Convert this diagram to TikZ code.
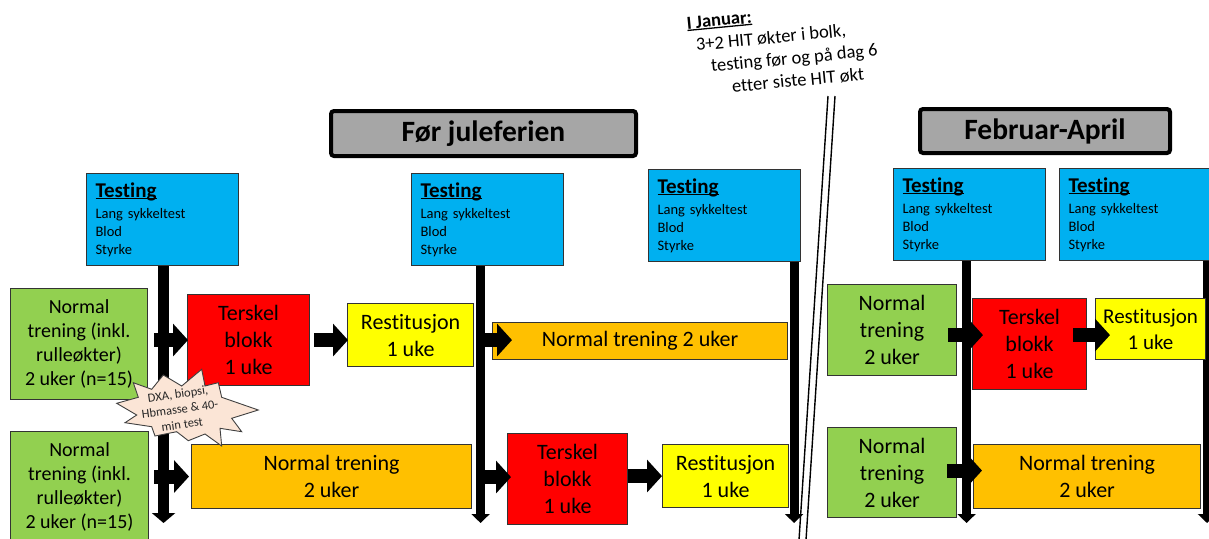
\documentclass[tikz,border=0pt]{standalone}
\usepackage{fontspec}
\setmainfont{Carlito}[Ligatures=NoCommon]
\usetikzlibrary{arrows.meta,calc}
\definecolor{tblue}{HTML}{00B0F0}
\definecolor{tgreen}{HTML}{92D050}
\definecolor{tred}{HTML}{FF0000}
\definecolor{tyellow}{HTML}{FFFF00}
\definecolor{torange}{HTML}{FFC000}
\definecolor{tgray}{HTML}{A6A6A6}
\definecolor{tpeach}{HTML}{FBE5D6}
\newcommand\myul[1]{\leavevmode\setbox0\hbox{#1}\rlap{\rule[-2pt]{\wd0}{1.3pt}}\box0}
\begin{document}
\begin{tikzpicture}[x=1pt,y=-1pt,
  box/.style={draw=black!80, line width=1.1pt, inner sep=0pt, align=center, anchor=north west},
  big/.style={font=\fontsize{22}{27}\selectfont},
  mid/.style={font=\fontsize{20}{24}\selectfont},
  testbox/.style={box, fill=tblue, align=left, inner xsep=9pt, text width=134pt, minimum height=92pt,
    font=\fontsize{14.5}{18}\selectfont},
  greenbox/.style={box, fill=tgreen},
  redbox/.style={box, fill=tred, big},
  yellowbox/.style={box, fill=tyellow, big},
  orangebox/.style={box, fill=torange, big},
  titlebox/.style={draw=black, line width=4pt, fill=tgray, rounded corners=3pt, inner sep=0pt,
    font=\fontsize{29.5}{32}\selectfont\bfseries},
  varrow/.style={line width=9pt, -{Triangle[length=9pt,width=18pt]}},
  harrow/.style={line width=14pt, -{Triangle[length=15pt,width=32pt]}}
]
\useasboundingbox (0,0) rectangle (1209,538);
\fill[white] (0,0) rectangle (1209,538);

% titles
\node[titlebox, minimum width=305pt, minimum height=45pt] (t1) at (483.5,133.5) {Før juleferien};
\node[titlebox, minimum width=250pt, minimum height=44pt] (t2) at (1045,131) {Februar-April};

% testing boxes
\newcommand\testtxt{{\fontsize{21}{24}\selectfont\bfseries\myul{Testing}}\\[3pt]Lang sykkeltest\\Blod\\Styrke}
\node[testbox] (T1) at (86,173) {\testtxt};
\node[testbox] (T2) at (411,173) {\testtxt};
\node[testbox] (T3) at (648,169) {\testtxt};
\node[testbox] (T4) at (893,168) {\testtxt};
\node[testbox, text width=142pt] (T5) at (1059,168) {\testtxt};

% vertical arrows
\coordinate (bot) at (0,523);
\coordinate (v1) at ($(T1.south)+(1,0)$);
\coordinate (v2) at ($(T2.south)+(-7,0)$);
\coordinate (v3) at ($(T3.south east)+(-7,0)$);
\coordinate (v4) at ($(T4.south)+(-3,0)$);
\coordinate (v5) at ($(T5.south west)+(148,0)$);
\draw[varrow, line width=11pt, -{Triangle[length=10pt,width=23pt]}] (v1) -- (v1 |- bot);
\draw[varrow] (v2) -- (v2 |- bot);
\draw[varrow] (v3) -- (v3 |- bot);
\draw[varrow] (v4) -- (v4 |- bot);
\draw[varrow] (v5) -- (v5 |- bot);

% left part, row 1
\node[greenbox, mid, minimum width=137pt, minimum height=111pt] (G1) at (10,288)
  {Normal\\trening (inkl.\\rulleøkter)\\2 uker (n=15)};
\node[redbox, minimum width=122pt, minimum height=91pt] (R1) at (187,294) {Terskel\\blokk\\1 uke};
\node[yellowbox, minimum width=126pt, minimum height=63pt] (Y1) at (347,303) {Restitusjon\\1 uke};
\node[orangebox, minimum width=295pt, minimum height=37pt] (O1) at (492,322) {Normal trening 2 uker};

% left part, row 2
\node[greenbox, mid, minimum width=138pt, minimum height=110pt] (G2) at (10,431)
  {Normal\\trening (inkl.\\rulleøkter)\\2 uker (n=15)};
\node[orangebox, minimum width=280pt, minimum height=64pt] (O2) at (191,444) {Normal trening\\2 uker};
\node[redbox, minimum width=120pt, minimum height=91pt] (R2) at (507,433) {Terskel\\blokk\\1 uke};
\node[yellowbox, minimum width=126pt, minimum height=63pt] (Y2) at (662,444) {Restitusjon\\1 uke};

% right part
\node[greenbox, big, minimum width=129pt, minimum height=91pt] (GR1) at (827,284) {Normal\\trening\\2 uker};
\node[redbox, minimum width=114pt, minimum height=91pt] (R3) at (972,298) {Terskel\\blokk\\1 uke};
\node[yellowbox, font=\fontsize{21}{26}\selectfont, minimum width=110pt, minimum height=61pt] (Y3) at (1095,298) {Restitusjon\\1 uke};
\node[greenbox, big, minimum width=129pt, minimum height=90pt] (GR2) at (827,427) {Normal\\trening\\2 uker};
\node[orangebox, minimum width=227pt, minimum height=64pt] (O3) at (973,444) {Normal trening\\2 uker};

% horizontal arrows
\draw[harrow] ($(G1.east |- R1.west)+(6,0)$) -- ($(R1.west)+(1,0)$);
\draw[harrow] ($(R1.east)+(4,0)$) -- ($(R1.east -| Y1.west)+(1,0)$);
\draw[harrow] ($(v2 |- O1.west)+(4,-1)$) -- ($(O1.west)+(20,-1)$);
\draw[harrow] ($(G2.east |- O2.west)+(5,0)$) -- ($(O2.west)+(-2,0)$);
\draw[harrow] ($(v2 |- R2.west)+(4,-2)$) -- ($(R2.west)+(4,-2)$);
\draw[harrow] (R2.east |- Y2.west) -- (Y2.west);
\draw[harrow] ($(GR1.east)+(-9,5)$) -- ($(GR1.east -| R3.west)+(11,5)$);
\draw[harrow] ($(R3.east |- Y3.west)+(-14,6)$) -- ($(Y3.west)+(15,6)$);
\draw[harrow] ($(GR2.east)+(-10,-2)$) -- ($(GR2.east -| O3.west)+(9,-2)$);

% starburst
\draw[fill=tpeach, draw=black!75, line width=0.9pt, line join=miter]
  (116.7,403.3) -- (138.3,397.3) -- (133.3,382.7) -- (151.7,389.3) -- (163.3,375) --
  (181.7,386) -- (201.7,369.3) -- (205,386) -- (218.3,382.7) -- (221.7,397.3) --
  (258.3,410) -- (231.7,418.3) -- (241.7,431.7) -- (220,428.3) -- (221.7,446) --
  (205,434) -- (188.3,440.7) -- (176.7,431.7) -- (155,436) -- (151.7,426.7) --
  (125,422.7) -- (136.7,415) -- cycle;
\node[rotate=8, align=center, inner sep=0pt, text=black!85, font=\fontsize{12.5}{15.5}\selectfont] (dxa) at (180,409)
  {DXA, biopsi,\\Hbmasse \& 40-\\min test};

% January break
\draw[line width=1.4pt] (828,96) -- (799,540);
\draw[line width=1.4pt] (835,96) -- (806,540);
\node[rotate=5.5, anchor=north west, align=left, inner sep=0pt, font=\fontsize{18.5}{22.5}\selectfont] (jan) at (686,17)
  {\textbf{\myul{I Januar:}}\\\hspace*{7pt}3+2 HIT økter i bolk,\\\hspace*{20pt}testing før og på dag 6\\\hspace*{39pt}etter siste HIT økt};
\end{tikzpicture}
\end{document}
